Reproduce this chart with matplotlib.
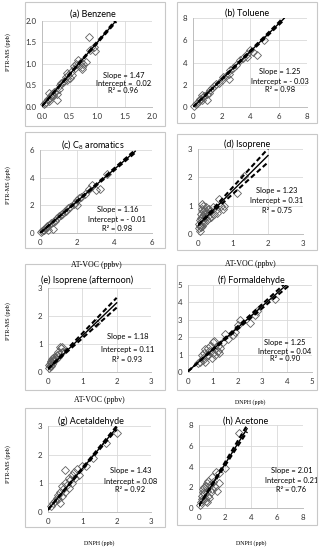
import numpy as np
import matplotlib
matplotlib.use('Agg')
from matplotlib import pyplot as plt
from matplotlib.patches import Rectangle

plt.rcParams['font.family'] = ['Lato', 'DejaVu Sans']
plt.rcParams['mathtext.fontset'] = 'custom'
plt.rcParams['mathtext.rm'] = 'Lato'
plt.rcParams['mathtext.it'] = 'Lato'

W, H = 320, 552

# panel titles and fit results
titles = ["(a) Benzene", "(b) Toluene", "(c) C$_8$ aromatics", "(d) Isoprene",
          "(e) Isoprene (afternoon)", "(f) Formaldehyde", "(g) Acetaldehyde", "(h) Acetone"]
slopes = [1.47, 1.25, 1.16, 1.23, 1.18, 1.25, 1.43, 2.01]
intercepts = [0.02, -0.03, -0.01, 0.31, 0.11, 0.04, 0.08, 0.21]
intercept_txt = ["Intercept =  0.02", "Intercept = - 0.03", "Intercept = - 0.01", "Intercept = 0.31",
                 "Intercept = 0.11", "Intercept = 0.04", "Intercept = 0.08", "Intercept = 0.21"]
r2 = ["0.96", "0.98", "0.98", "0.75", "0.93", "0.90", "0.92", "0.76"]
# confidence band slopes (upper, lower) and where the fit lines end
upper_slopes = [1.49, 1.27, 1.18, 1.35, 1.27, 1.29, 1.46, 2.10]
lower_slopes = [1.45, 1.23, 1.14, 1.11, 1.095, 1.21, 1.40, 1.93]
line_xmax = [1.35, 6.4, 5.1, 2.0, 2.0, 4.1, 2.0, 3.7]
axis_max = [2.0, 8, 6, 3, 3, 5, 3, 8]
axis_step = [0.5, 2, 2, 1, 1, 1, 1, 2]
xlabels = [None, None, "AT-VOC (ppbv)", "AT-VOC (ppbv)", "AT-VOC (ppbv)", "DNPH (ppb)", "DNPH (ppb)", "DNPH (ppb)"]

# scatter data: AT-VOC / DNPH (x) vs PTR-MS (y)
x_a = [0.03,0.05,0.08,0.1,0.12,0.14,0.16,0.18,0.2,0.22,0.25,0.27,0.3,0.32,0.35,0.38,0.4,0.43,0.45,0.48,
       0.5,0.53,0.55,0.58,0.6,0.62,0.65,0.68,0.7,0.72,0.73,0.75,0.8,0.85,0.88,0.95,0.97,0.27,0.12,0.45]
y_a = [0.06,0.1,0.12,0.18,0.15,0.22,0.25,0.3,0.28,0.35,0.38,0.17,0.42,0.5,0.55,0.58,0.6,0.7,0.62,0.75,
       0.68,0.8,0.75,0.95,0.9,1.0,1.1,0.95,1.05,0.88,0.93,1.0,1.05,1.63,1.32,1.4,1.3,0.3,0.32,0.78]
x_b = [0.1,0.2,0.3,0.4,0.5,0.6,0.7,0.8,1.0,1.1,1.2,1.3,1.5,1.6,1.8,2.0,2.1,2.3,2.5,2.6,2.8,3.0,3.3,3.5,
       3.8,4.0,4.2,4.5,5.0,1.0,0.6,2.5,3.8]
y_b = [0.1,0.3,0.4,0.5,0.7,0.6,0.9,1.0,1.2,1.3,1.5,1.7,1.9,2.1,2.2,2.4,2.7,2.8,3.0,3.3,3.5,3.8,4.2,4.4,
       4.8,5.1,4.9,4.7,6.0,0.6,1.1,2.5,4.5]
x_c = [0.05,0.1,0.15,0.2,0.3,0.35,0.4,0.5,0.6,0.7,0.8,0.9,1.0,1.1,1.2,1.3,1.4,1.5,1.6,1.8,1.9,2.0,2.1,2.2,
       2.4,2.6,2.8,3.0,3.2,3.6,0.7,0.45,2.0]
y_c = [0.1,0.15,0.2,0.25,0.35,0.4,0.5,0.6,0.7,0.8,0.9,1.1,1.2,1.3,1.4,1.5,1.6,1.8,1.9,2.1,2.2,2.4,2.5,2.6,
       2.8,3.2,3.5,3.1,3.2,4.3,0.3,0.2,2.0]
x_d = [0.02,0.03,0.05,0.05,0.06,0.08,0.08,0.1,0.1,0.12,0.12,0.14,0.15,0.15,0.17,0.18,0.2,0.2,0.22,0.25,
       0.25,0.28,0.3,0.3,0.35,0.38,0.42,0.45,0.5,0.55,0.6,0.65,0.7,0.75,1.1,1.3,0.12,0.08]
y_d = [0.2,0.35,0.1,0.5,0.3,0.25,0.7,0.4,0.9,0.3,0.6,0.8,0.5,1.0,0.7,0.4,0.6,0.85,0.95,0.5,
       0.75,0.65,0.9,0.55,0.8,0.6,0.95,0.7,0.85,0.75,1.25,1.0,0.9,1.0,1.45,2.05,1.05,0.55]
x_e = [0.02,0.04,0.05,0.07,0.08,0.1,0.1,0.12,0.13,0.15,0.15,0.17,0.18,0.2,0.22,0.25,0.28,0.3,0.32,0.35,
       0.38,0.4,0.42,1.4]
y_e = [0.15,0.25,0.2,0.3,0.22,0.35,0.4,0.3,0.45,0.38,0.5,0.42,0.55,0.5,0.45,0.6,0.55,0.7,0.65,0.9,
       0.85,0.88,0.7,1.75]
x_f = [0.4,0.5,0.55,0.6,0.65,0.7,0.7,0.75,0.8,0.8,0.85,0.9,0.95,1.0,1.0,1.05,1.1,1.1,1.2,1.25,1.3,1.4,
       1.5,1.6,1.8,1.9,2.0,2.1,2.5,2.7,2.8,3.5,0.6,1.2]
y_f = [0.5,0.6,1.0,0.8,1.1,0.6,1.3,0.9,1.0,1.4,1.2,1.5,0.8,1.1,1.7,1.8,1.3,1.0,1.5,1.1,1.4,1.7,
       2.2,1.9,2.1,2.3,2.7,3.0,2.8,3.3,3.5,4.2,0.7,1.2]
x_g = [0.1,0.15,0.2,0.25,0.3,0.3,0.35,0.4,0.4,0.45,0.5,0.5,0.55,0.6,0.6,0.65,0.7,0.7,0.75,0.8,0.85,0.9,
       1.0,1.1,1.3,1.7,2.0,0.35,0.5]
y_g = [0.2,0.3,0.4,0.5,0.45,0.6,0.7,0.55,0.9,0.8,0.7,1.0,0.95,0.85,1.2,1.1,1.0,1.3,1.4,1.2,1.5,1.3,
       1.6,1.6,1.9,2.4,2.75,0.3,1.45]
x_h = [0.1,0.15,0.2,0.25,0.3,0.3,0.35,0.4,0.45,0.5,0.5,0.6,0.6,0.7,0.7,0.8,0.85,0.9,1.0,1.0,1.1,1.2,
       1.3,1.4,1.5,1.5,2.0,3.1,0.3,0.6]
y_h = [0.3,0.6,0.9,1.2,0.8,1.8,2.0,1.4,1.0,2.1,0.7,1.6,2.4,1.2,2.6,1.0,2.2,1.5,3.0,1.8,2.5,2.0,
       3.5,1.6,2.4,3.4,3.9,7.2,1.5,0.6]
xs = [x_a, x_b, x_c, x_d, x_e, x_f, x_g, x_h]
ys = [y_a, y_b, y_c, y_d, y_e, y_f, y_g, y_h]

# layout in pixels: plot area (left, right, top, bottom), chart box, title centre, text spot
geom = [(42,152,20.7,107), (193,307,18,107), (40,152,150,233), (198,303,149,234),
        (48,151,288,372), (188,312,285,372), (48,151,426,512), (199,303,425,508)]
boxes = [(25,165,2,126), (177,317,2,123), (25,165,132,248), (177,317,134,250),
         (25,165,264,390), (177,317,265,390), (25,165,408,527), (177,317,408,525)]
title_pos = [(93,14), (247,13), (93,145), (247,144), (87,280), (251,280), (91,421), (246,421)]
text_pos = [(0.74,0.37,0.27,0.19), (0.76,0.40,0.29,0.20), (0.69,0.28,0.16,0.05), (0.75,0.51,0.39,0.28),
            (0.77,0.42,0.27,0.15), (0.78,0.34,0.24,0.15), (0.80,0.48,0.36,0.26), (0.89,0.45,0.33,0.22)]
xlabel_y = [None, None, 265, 264, 400, 402, 543, 543]
ylabel_y = [52, 185, 321, 464]

fig = plt.figure(figsize=(W/100, H/100), dpi=100)

def fx(px):
    return px / W

def fy(py):
    return 1 - py / H

for i in range(8):
    l, r, t, b = boxes[i]
    fig.patches.append(Rectangle((fx(l), fy(b)), fx(r-l), (b-t)/H, transform=fig.transFigure,
                                 fill=False, edgecolor='#c8c8c8', lw=0.8))
    x0, x1, y0, y1 = geom[i]
    ax = fig.add_axes([fx(x0), fy(y1), fx(x1-x0), (y1-y0)/H])
    ax.set_facecolor('none')
    m = axis_max[i]
    ticks = np.arange(0, m + axis_step[i]/2, axis_step[i])
    ax.set_xlim(0, m)
    ax.set_ylim(0, m)
    ax.set_xticks(ticks)
    ax.set_yticks(ticks)
    if i == 0:
        lab = ["%.1f" % v for v in ticks]
    else:
        lab = ["%d" % v for v in ticks]
    ax.set_xticklabels(lab)
    ax.set_yticklabels(lab)
    ax.tick_params(length=0, labelsize=5.7, labelcolor='#333333', pad=4)
    ax.grid(True, color='#d9d9d9', lw=0.6)
    ax.set_axisbelow(True)
    for s in ['top', 'right']:
        ax.spines[s].set_visible(False)
    for s in ['left', 'bottom']:
        ax.spines[s].set_color('#bfbfbf')
        ax.spines[s].set_linewidth(0.7)

    ax.plot(xs[i], ys[i], 'D', ms=4.3, mfc='none', mec='#606060', mew=0.6, clip_on=False, zorder=3)

    lx = np.array([0, line_xmax[i]])
    ax.plot(lx, intercepts[i] + slopes[i]*lx, color='black', lw=1.0, zorder=4)
    for sl in [upper_slopes[i], lower_slopes[i]]:
        ax.plot(lx, intercepts[i] + sl*lx, color='black', lw=1.5, dashes=(2.4, 1.4), zorder=4)

    tx, t1, t2, t3 = text_pos[i]
    ax.text(tx, t1, "Slope = %.2f" % slopes[i], transform=ax.transAxes, ha='center', va='center', fontsize=5.4)
    ax.text(tx, t2, intercept_txt[i], transform=ax.transAxes, ha='center', va='center', fontsize=5.4)
    ax.text(tx, t3, "R² = " + r2[i], transform=ax.transAxes, ha='center', va='center', fontsize=5.4)

    fig.text(fx(title_pos[i][0]), fy(title_pos[i][1]), titles[i], ha='center', va='center', fontsize=6.5)

    if xlabels[i] is not None:
        fs = 5.6 if xlabels[i].startswith("AT") else 4.3
        fig.text(fx((x0+x1)/2), fy(xlabel_y[i]), xlabels[i], ha='center', va='center',
                 fontsize=fs, family='Liberation Serif')

for yy in ylabel_y:
    fig.text(fx(8), fy(yy), "PTR-MS (ppb)", rotation=90, ha='center', va='center',
             fontsize=4.5, family='Liberation Serif')

fig.savefig('out.png', dpi=100)
